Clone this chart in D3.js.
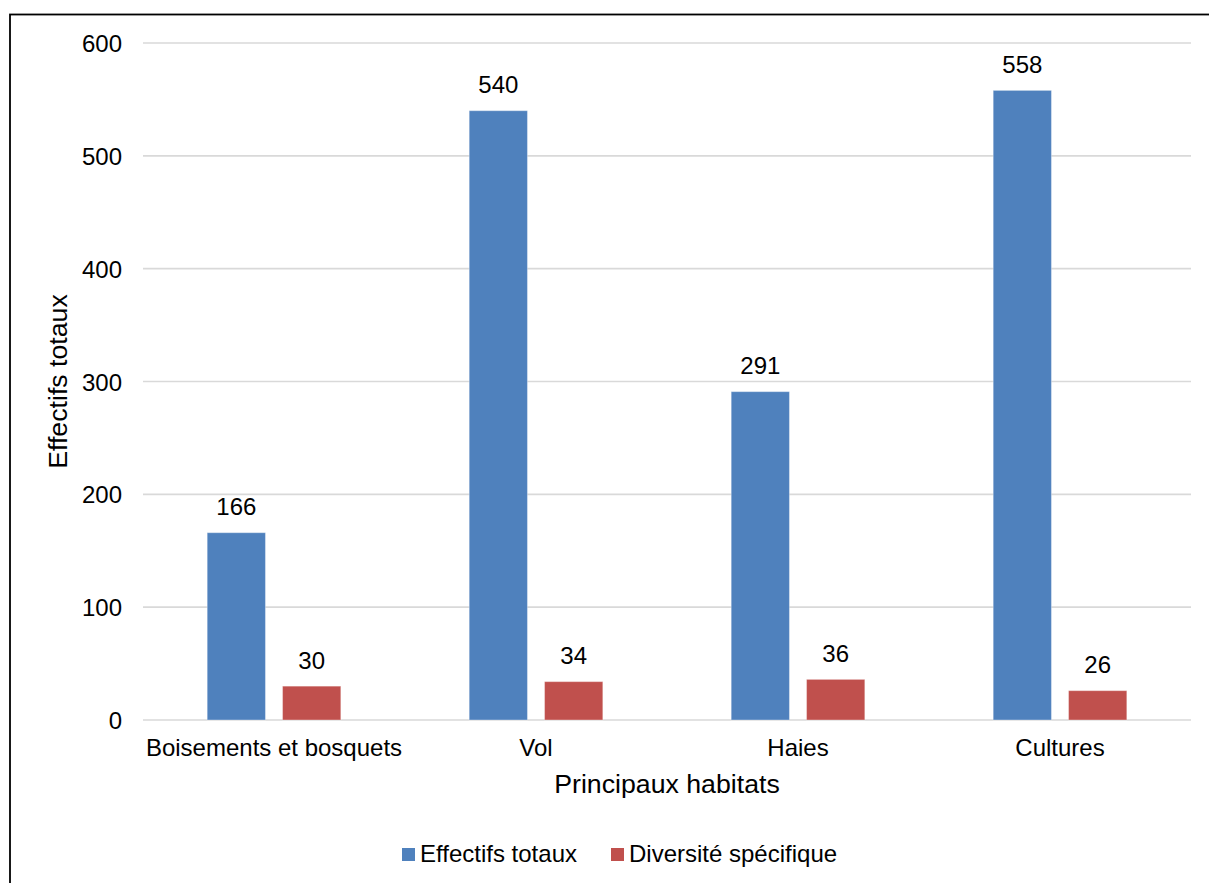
<!DOCTYPE html>
<html>
<head>
<meta charset="utf-8">
<script src="https://cdn.jsdelivr.net/npm/d3@7"></script>
<style>
  html, body { margin: 0; padding: 0; background: #fff; }
  svg { display: block; font-family: "Liberation Sans", Arial, sans-serif; }
</style>
</head>
<body>
<svg id="chart" width="1209" height="883"></svg>
<script>
// Habitat categories and the two measured series
const categories = ["Boisements et bosquets", "Vol", "Haies", "Cultures"];
const seriesNames = ["Effectifs totaux", "Diversité spécifique"];
const effectifsTotaux = [166, 540, 291, 558];
const diversiteSpecifique = [30, 34, 36, 26];
const yTicks = [0, 100, 200, 300, 400, 500, 600];
const colors = ["#4F81BD", "#C0504D"];

const labelSize = 24;
const titleSize = 26.7;

const svg = d3.select("#chart");

// Outer chart frame
svg.append("rect")
  .attr("x", 10).attr("y", 14.5)
  .attr("width", 1220).attr("height", 900)
  .attr("fill", "none").attr("stroke", "#000").attr("stroke-width", 1.8);

const plot = { left: 143, right: 1191, top: 43, bottom: 720 };

const y = d3.scaleLinear().domain([0, 600]).range([plot.bottom, plot.top]);
const x0 = d3.scaleBand().domain(categories).range([plot.left, plot.right]).padding(0);
const bw = x0.bandwidth();
const x1 = d3.scaleBand().domain(seriesNames)
  .range([bw * 0.245, bw * 0.755]).paddingInner(0.227).paddingOuter(0);

// Horizontal gridlines
svg.append("g")
  .selectAll("line")
  .data(yTicks)
  .join("line")
  .attr("x1", plot.left).attr("x2", plot.right)
  .attr("y1", d => y(d)).attr("y2", d => y(d))
  .attr("stroke", "#d9d9d9").attr("stroke-width", 1.6);

// Y axis labels
const yAxis = d3.axisLeft(y).tickValues(yTicks).tickSize(0).tickPadding(0);
svg.append("g")
  .attr("transform", `translate(122,0)`)
  .call(yAxis)
  .call(g => g.select(".domain").remove())
  .selectAll("text")
  .attr("font-size", labelSize)
  .attr("font-family", "Liberation Sans, Arial, sans-serif")
  .attr("fill", "#000")
  .attr("dy", "0.36em");

// X axis labels
const xAxis = d3.axisBottom(x0).tickSize(0).tickPadding(0);
svg.append("g")
  .attr("transform", `translate(0,${plot.bottom})`)
  .call(xAxis)
  .call(g => g.select(".domain").remove())
  .selectAll("text")
  .attr("font-size", labelSize)
  .attr("font-family", "Liberation Sans, Arial, sans-serif")
  .attr("fill", "#000")
  .attr("dy", null)
  .attr("y", 36);

// Bars
const rows = categories.map((c, i) => ({
  category: c,
  values: [
    { series: seriesNames[0], value: effectifsTotaux[i], color: colors[0] },
    { series: seriesNames[1], value: diversiteSpecifique[i], color: colors[1] }
  ]
}));

const groups = svg.append("g")
  .selectAll("g")
  .data(rows)
  .join("g")
  .attr("transform", d => `translate(${x0(d.category)},0)`);

groups.selectAll("rect")
  .data(d => d.values)
  .join("rect")
  .attr("x", d => x1(d.series))
  .attr("width", x1.bandwidth())
  .attr("y", d => y(d.value))
  .attr("height", d => y(0) - y(d.value))
  .attr("fill", d => d.color)
  .attr("stroke", "rgba(255,255,255,0.35)")
  .attr("stroke-width", 1);

// Value labels above bars
groups.selectAll("text")
  .data(d => d.values)
  .join("text")
  .attr("x", d => x1(d.series) + x1.bandwidth() / 2)
  .attr("y", d => y(d.value) - 17.5)
  .attr("text-anchor", "middle")
  .attr("font-size", labelSize)
  .attr("fill", "#000")
  .text(d => d.value);

// Axis titles
svg.append("text")
  .attr("x", (plot.left + plot.right) / 2)
  .attr("y", 793)
  .attr("text-anchor", "middle")
  .attr("font-size", titleSize)
  .attr("fill", "#000")
  .text("Principaux habitats");

svg.append("text")
  .attr("transform", `translate(67,${(plot.top + plot.bottom) / 2}) rotate(-90)`)
  .attr("text-anchor", "middle")
  .attr("font-size", titleSize)
  .attr("fill", "#000")
  .text("Effectifs totaux");

// Legend
const legendItems = [
  { name: seriesNames[0], color: colors[0], x: 402 },
  { name: seriesNames[1], color: colors[1], x: 611 }
];
const legend = svg.append("g");
legend.selectAll("rect")
  .data(legendItems)
  .join("rect")
  .attr("x", d => d.x).attr("y", 848)
  .attr("width", 13).attr("height", 13)
  .attr("fill", d => d.color);
legend.selectAll("text")
  .data(legendItems)
  .join("text")
  .attr("x", d => d.x + 18).attr("y", 862)
  .attr("font-size", labelSize)
  .attr("fill", "#000")
  .text(d => d.name);
</script>
</body>
</html>
